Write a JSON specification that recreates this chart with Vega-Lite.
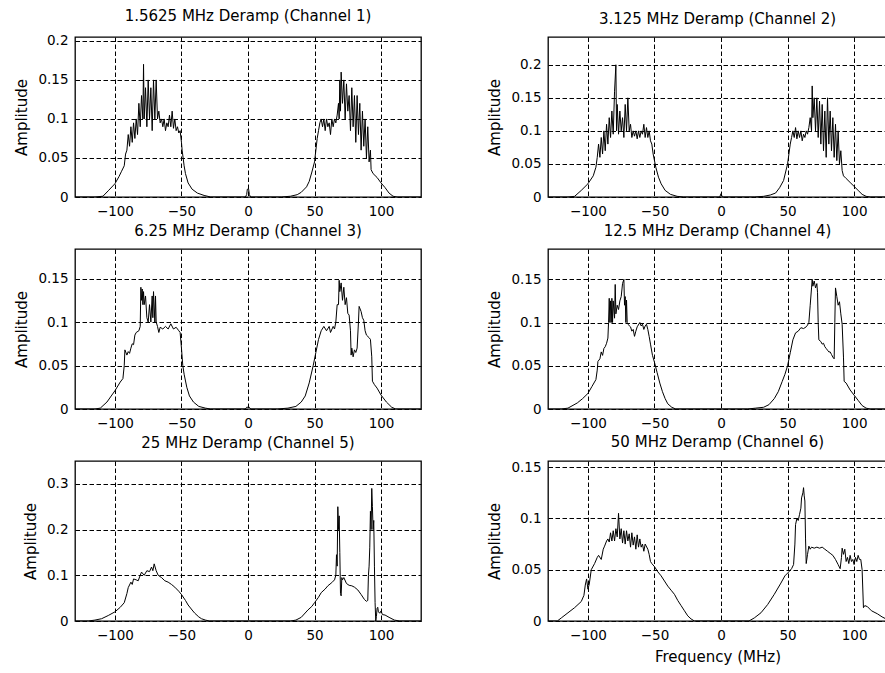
{
  "$schema": "https://vega.github.io/schema/vega-lite/v6.json",
  "background": "white",
  "padding": {"left": 14, "top": 8, "right": 0, "bottom": 0},
  "columns": 2,
  "bounds": "flush",
  "spacing": {"row": 52, "column": 127},
  "datasets": {
    "ch1": [{"f":-130,"a":0},{"f":-115,"a":0},{"f":-109,"a":0.001},{"f":-105,"a":0.008},{"f":-100,"a":0.017},{"f":-97,"a":0.026},{"f":-95,"a":0.033},{"f":-93,"a":0.04},{"f":-92,"a":0.055},{"f":-91,"a":0.06},{"f":-90,"a":0.08},{"f":-89,"a":0.065},{"f":-88,"a":0.09},{"f":-87,"a":0.07},{"f":-86,"a":0.095},{"f":-85,"a":0.075},{"f":-84,"a":0.1},{"f":-83,"a":0.08},{"f":-82,"a":0.12},{"f":-81,"a":0.09},{"f":-80,"a":0.13},{"f":-79,"a":0.1},{"f":-78.5,"a":0.17},{"f":-78,"a":0.1},{"f":-77,"a":0.14},{"f":-76,"a":0.09},{"f":-75,"a":0.15},{"f":-74,"a":0.1},{"f":-73,"a":0.14},{"f":-72,"a":0.085},{"f":-71,"a":0.15},{"f":-70,"a":0.1},{"f":-69,"a":0.15},{"f":-68,"a":0.1},{"f":-67,"a":0.11},{"f":-66,"a":0.095},{"f":-65,"a":0.1},{"f":-64,"a":0.09},{"f":-63,"a":0.1},{"f":-62,"a":0.085},{"f":-61,"a":0.095},{"f":-60,"a":0.09},{"f":-59,"a":0.105},{"f":-58,"a":0.09},{"f":-57,"a":0.11},{"f":-56,"a":0.088},{"f":-55,"a":0.1},{"f":-54,"a":0.085},{"f":-53,"a":0.09},{"f":-52,"a":0.082},{"f":-51,"a":0.085},{"f":-50,"a":0.07},{"f":-49.5,"a":0.06},{"f":-48,"a":0.04},{"f":-47,"a":0.03},{"f":-45,"a":0.018},{"f":-42,"a":0.01},{"f":-38,"a":0.005},{"f":-33,"a":0.002},{"f":-28,"a":0},{"f":-2,"a":0},{"f":-1,"a":0.003},{"f":-0.5,"a":0.01},{"f":0.5,"a":0.01},{"f":1,"a":0.003},{"f":2,"a":0},{"f":25,"a":0},{"f":32,"a":0.001},{"f":37,"a":0.003},{"f":40,"a":0.006},{"f":44,"a":0.013},{"f":46,"a":0.02},{"f":48,"a":0.032},{"f":50,"a":0.045},{"f":51,"a":0.06},{"f":52,"a":0.075},{"f":53,"a":0.085},{"f":54,"a":0.095},{"f":55,"a":0.1},{"f":56,"a":0.09},{"f":57,"a":0.1},{"f":58,"a":0.085},{"f":59,"a":0.1},{"f":60,"a":0.09},{"f":61,"a":0.095},{"f":62,"a":0.08},{"f":63,"a":0.1},{"f":64,"a":0.09},{"f":65,"a":0.1},{"f":66,"a":0.095},{"f":67,"a":0.105},{"f":68,"a":0.12},{"f":68.5,"a":0.1},{"f":69,"a":0.15},{"f":69.5,"a":0.11},{"f":70,"a":0.16},{"f":71,"a":0.12},{"f":72,"a":0.15},{"f":73,"a":0.1},{"f":74,"a":0.145},{"f":75,"a":0.11},{"f":76,"a":0.13},{"f":77,"a":0.085},{"f":78,"a":0.14},{"f":79,"a":0.09},{"f":80,"a":0.13},{"f":81,"a":0.07},{"f":82,"a":0.13},{"f":83,"a":0.08},{"f":84,"a":0.12},{"f":85,"a":0.06},{"f":86,"a":0.11},{"f":87,"a":0.065},{"f":88,"a":0.1},{"f":89,"a":0.05},{"f":90,"a":0.09},{"f":91,"a":0.045},{"f":92,"a":0.06},{"f":92.5,"a":0.035},{"f":94,"a":0.03},{"f":97,"a":0.025},{"f":100,"a":0.018},{"f":103,"a":0.012},{"f":106,"a":0.005},{"f":109,"a":0.001},{"f":112,"a":0},{"f":130,"a":0}],
    "ch2": [{"f":-130,"a":0},{"f":-115,"a":0},{"f":-110,"a":0.001},{"f":-105,"a":0.01},{"f":-100,"a":0.02},{"f":-96,"a":0.032},{"f":-94,"a":0.045},{"f":-93,"a":0.06},{"f":-92,"a":0.08},{"f":-91,"a":0.06},{"f":-90,"a":0.09},{"f":-89,"a":0.065},{"f":-88,"a":0.1},{"f":-87,"a":0.07},{"f":-86,"a":0.11},{"f":-85,"a":0.08},{"f":-84,"a":0.12},{"f":-83,"a":0.09},{"f":-82,"a":0.13},{"f":-81,"a":0.095},{"f":-80,"a":0.16},{"f":-79,"a":0.2},{"f":-78.5,"a":0.1},{"f":-78,"a":0.14},{"f":-77,"a":0.095},{"f":-76,"a":0.13},{"f":-75,"a":0.1},{"f":-74,"a":0.12},{"f":-73,"a":0.09},{"f":-72,"a":0.14},{"f":-71,"a":0.1},{"f":-70,"a":0.15},{"f":-69,"a":0.1},{"f":-68,"a":0.11},{"f":-67,"a":0.09},{"f":-66,"a":0.1},{"f":-65,"a":0.092},{"f":-64,"a":0.1},{"f":-63,"a":0.088},{"f":-62,"a":0.1},{"f":-61,"a":0.09},{"f":-60,"a":0.1},{"f":-59,"a":0.095},{"f":-58,"a":0.11},{"f":-57,"a":0.09},{"f":-56,"a":0.105},{"f":-55,"a":0.09},{"f":-54,"a":0.1},{"f":-53,"a":0.085},{"f":-52,"a":0.08},{"f":-51,"a":0.065},{"f":-50,"a":0.055},{"f":-49,"a":0.045},{"f":-47,"a":0.03},{"f":-45,"a":0.02},{"f":-42,"a":0.01},{"f":-38,"a":0.004},{"f":-33,"a":0.001},{"f":-28,"a":0},{"f":-1,"a":0},{"f":0,"a":0.005},{"f":1,"a":0},{"f":25,"a":0},{"f":32,"a":0.001},{"f":37,"a":0.003},{"f":41,"a":0.006},{"f":44,"a":0.014},{"f":47,"a":0.025},{"f":50,"a":0.05},{"f":51,"a":0.065},{"f":52,"a":0.08},{"f":53,"a":0.09},{"f":54,"a":0.1},{"f":55,"a":0.09},{"f":56,"a":0.105},{"f":57,"a":0.088},{"f":58,"a":0.1},{"f":59,"a":0.09},{"f":60,"a":0.1},{"f":61,"a":0.085},{"f":62,"a":0.095},{"f":63,"a":0.09},{"f":64,"a":0.1},{"f":65,"a":0.095},{"f":66,"a":0.105},{"f":67,"a":0.12},{"f":68,"a":0.1},{"f":68.5,"a":0.168},{"f":69,"a":0.12},{"f":70,"a":0.15},{"f":71,"a":0.1},{"f":72,"a":0.15},{"f":73,"a":0.09},{"f":74,"a":0.145},{"f":75,"a":0.08},{"f":76,"a":0.14},{"f":77,"a":0.07},{"f":78,"a":0.13},{"f":79,"a":0.06},{"f":80,"a":0.15},{"f":81,"a":0.08},{"f":82,"a":0.13},{"f":83,"a":0.07},{"f":84,"a":0.12},{"f":85,"a":0.06},{"f":86,"a":0.11},{"f":87,"a":0.055},{"f":88,"a":0.1},{"f":89,"a":0.05},{"f":90,"a":0.07},{"f":91,"a":0.04},{"f":92,"a":0.032},{"f":94,"a":0.028},{"f":97,"a":0.022},{"f":100,"a":0.016},{"f":103,"a":0.01},{"f":106,"a":0.004},{"f":109,"a":0.001},{"f":112,"a":0},{"f":130,"a":0}],
    "ch3": [{"f":-130,"a":0},{"f":-115,"a":0},{"f":-111,"a":0.001},{"f":-106,"a":0.008},{"f":-100,"a":0.021},{"f":-96,"a":0.031},{"f":-94,"a":0.035},{"f":-93,"a":0.05},{"f":-92.5,"a":0.068},{"f":-91,"a":0.062},{"f":-90,"a":0.066},{"f":-89,"a":0.064},{"f":-88,"a":0.07},{"f":-87,"a":0.075},{"f":-86,"a":0.074},{"f":-85,"a":0.085},{"f":-84,"a":0.088},{"f":-82,"a":0.09},{"f":-81,"a":0.095},{"f":-80.5,"a":0.14},{"f":-80,"a":0.125},{"f":-79.5,"a":0.138},{"f":-79,"a":0.12},{"f":-78.5,"a":0.135},{"f":-78,"a":0.12},{"f":-77,"a":0.13},{"f":-76,"a":0.105},{"f":-75,"a":0.1},{"f":-74,"a":0.12},{"f":-73,"a":0.1},{"f":-72,"a":0.13},{"f":-71.5,"a":0.105},{"f":-71,"a":0.135},{"f":-70,"a":0.1},{"f":-69.5,"a":0.13},{"f":-69,"a":0.1},{"f":-68,"a":0.095},{"f":-67,"a":0.088},{"f":-66,"a":0.094},{"f":-64,"a":0.092},{"f":-62,"a":0.095},{"f":-60,"a":0.092},{"f":-58,"a":0.098},{"f":-56,"a":0.092},{"f":-54,"a":0.094},{"f":-52,"a":0.09},{"f":-51,"a":0.088},{"f":-50,"a":0.07},{"f":-49,"a":0.05},{"f":-48,"a":0.04},{"f":-46,"a":0.025},{"f":-44,"a":0.015},{"f":-41,"a":0.008},{"f":-37,"a":0.003},{"f":-32,"a":0.001},{"f":-28,"a":0},{"f":-2,"a":0},{"f":-1,"a":0.002},{"f":1,"a":0.002},{"f":2,"a":0},{"f":22,"a":0},{"f":30,"a":0.001},{"f":36,"a":0.003},{"f":40,"a":0.008},{"f":43,"a":0.015},{"f":46,"a":0.03},{"f":49,"a":0.05},{"f":51,"a":0.065},{"f":53,"a":0.08},{"f":55,"a":0.09},{"f":57,"a":0.095},{"f":59,"a":0.09},{"f":61,"a":0.095},{"f":62,"a":0.088},{"f":64,"a":0.095},{"f":65,"a":0.092},{"f":66,"a":0.1},{"f":67,"a":0.12},{"f":68,"a":0.12},{"f":68.5,"a":0.148},{"f":69,"a":0.135},{"f":70,"a":0.145},{"f":71,"a":0.125},{"f":72,"a":0.14},{"f":73,"a":0.12},{"f":74,"a":0.128},{"f":75,"a":0.11},{"f":76,"a":0.108},{"f":77,"a":0.09},{"f":77.5,"a":0.062},{"f":78,"a":0.07},{"f":79,"a":0.06},{"f":80,"a":0.068},{"f":81,"a":0.065},{"f":82,"a":0.07},{"f":83,"a":0.1},{"f":83.5,"a":0.118},{"f":85,"a":0.112},{"f":86,"a":0.105},{"f":87,"a":0.102},{"f":88,"a":0.09},{"f":89,"a":0.085},{"f":91,"a":0.082},{"f":92,"a":0.08},{"f":93,"a":0.06},{"f":93.5,"a":0.032},{"f":95,"a":0.028},{"f":97,"a":0.024},{"f":100,"a":0.016},{"f":104,"a":0.008},{"f":108,"a":0.002},{"f":111,"a":0},{"f":130,"a":0}],
    "ch4": [{"f":-130,"a":0},{"f":-120,"a":0},{"f":-115,"a":0.001},{"f":-108,"a":0.007},{"f":-104,"a":0.012},{"f":-100,"a":0.018},{"f":-97,"a":0.026},{"f":-94,"a":0.034},{"f":-93,"a":0.045},{"f":-92.5,"a":0.055},{"f":-91,"a":0.058},{"f":-90,"a":0.066},{"f":-89,"a":0.062},{"f":-88,"a":0.07},{"f":-87,"a":0.072},{"f":-86,"a":0.076},{"f":-85,"a":0.082},{"f":-84.5,"a":0.1},{"f":-84,"a":0.128},{"f":-83.5,"a":0.1},{"f":-83,"a":0.125},{"f":-82.5,"a":0.1},{"f":-82,"a":0.128},{"f":-81.5,"a":0.1},{"f":-81,"a":0.125},{"f":-80,"a":0.105},{"f":-79.5,"a":0.144},{"f":-79,"a":0.11},{"f":-78,"a":0.12},{"f":-77,"a":0.115},{"f":-76,"a":0.125},{"f":-75,"a":0.13},{"f":-74,"a":0.145},{"f":-73,"a":0.15},{"f":-72.5,"a":0.12},{"f":-72,"a":0.13},{"f":-71.5,"a":0.1},{"f":-71,"a":0.126},{"f":-70.5,"a":0.1},{"f":-70,"a":0.098},{"f":-68,"a":0.095},{"f":-67,"a":0.09},{"f":-66,"a":0.092},{"f":-65,"a":0.084},{"f":-64,"a":0.09},{"f":-63,"a":0.095},{"f":-61,"a":0.1},{"f":-60,"a":0.096},{"f":-59,"a":0.098},{"f":-58,"a":0.092},{"f":-57,"a":0.096},{"f":-56,"a":0.098},{"f":-55,"a":0.092},{"f":-54,"a":0.084},{"f":-53,"a":0.075},{"f":-51.5,"a":0.062},{"f":-50,"a":0.054},{"f":-48,"a":0.042},{"f":-46,"a":0.03},{"f":-44,"a":0.02},{"f":-42,"a":0.012},{"f":-40,"a":0.006},{"f":-37,"a":0.002},{"f":-34,"a":0},{"f":20,"a":0},{"f":26,"a":0.001},{"f":32,"a":0.002},{"f":36,"a":0.005},{"f":40,"a":0.012},{"f":43,"a":0.02},{"f":46,"a":0.032},{"f":48,"a":0.04},{"f":50,"a":0.05},{"f":52,"a":0.065},{"f":54,"a":0.08},{"f":56,"a":0.088},{"f":58,"a":0.09},{"f":60,"a":0.094},{"f":62,"a":0.093},{"f":64,"a":0.095},{"f":65,"a":0.097},{"f":66,"a":0.1},{"f":67,"a":0.12},{"f":68,"a":0.14},{"f":68.5,"a":0.15},{"f":69,"a":0.142},{"f":70,"a":0.148},{"f":71,"a":0.14},{"f":72,"a":0.145},{"f":72.5,"a":0.135},{"f":73,"a":0.1},{"f":73.5,"a":0.08},{"f":75,"a":0.078},{"f":76,"a":0.075},{"f":77,"a":0.076},{"f":78,"a":0.072},{"f":79,"a":0.07},{"f":80,"a":0.068},{"f":81,"a":0.066},{"f":82,"a":0.066},{"f":83,"a":0.063},{"f":84,"a":0.06},{"f":85,"a":0.058},{"f":85.5,"a":0.1},{"f":86,"a":0.14},{"f":87,"a":0.13},{"f":88,"a":0.12},{"f":89,"a":0.124},{"f":90,"a":0.11},{"f":91,"a":0.098},{"f":92,"a":0.06},{"f":92.5,"a":0.032},{"f":94,"a":0.03},{"f":97,"a":0.022},{"f":100,"a":0.016},{"f":103,"a":0.01},{"f":106,"a":0.004},{"f":109,"a":0.001},{"f":112,"a":0},{"f":130,"a":0}],
    "ch5": [{"f":-130,"a":0},{"f":-120,"a":0},{"f":-115,"a":0.002},{"f":-110,"a":0.005},{"f":-105,"a":0.012},{"f":-100,"a":0.02},{"f":-96,"a":0.03},{"f":-93,"a":0.04},{"f":-91,"a":0.06},{"f":-90,"a":0.073},{"f":-88,"a":0.085},{"f":-87,"a":0.08},{"f":-86,"a":0.092},{"f":-84,"a":0.09},{"f":-82.5,"a":0.088},{"f":-81,"a":0.1},{"f":-80,"a":0.107},{"f":-78,"a":0.1},{"f":-76,"a":0.11},{"f":-74,"a":0.108},{"f":-72.5,"a":0.118},{"f":-71.5,"a":0.11},{"f":-70.5,"a":0.125},{"f":-69,"a":0.11},{"f":-67.5,"a":0.1},{"f":-65,"a":0.095},{"f":-62.5,"a":0.088},{"f":-60,"a":0.085},{"f":-57.5,"a":0.08},{"f":-55,"a":0.074},{"f":-52,"a":0.065},{"f":-50,"a":0.058},{"f":-47,"a":0.045},{"f":-45,"a":0.035},{"f":-42,"a":0.024},{"f":-40,"a":0.017},{"f":-37,"a":0.009},{"f":-35,"a":0.005},{"f":-32,"a":0.002},{"f":-29,"a":0},{"f":32,"a":0},{"f":36,"a":0.002},{"f":40,"a":0.008},{"f":45,"a":0.024},{"f":48,"a":0.032},{"f":50,"a":0.04},{"f":53,"a":0.052},{"f":55,"a":0.062},{"f":58,"a":0.07},{"f":60,"a":0.077},{"f":63,"a":0.084},{"f":65,"a":0.09},{"f":66,"a":0.1},{"f":66.5,"a":0.145},{"f":67,"a":0.12},{"f":67.5,"a":0.25},{"f":68,"a":0.2},{"f":68.5,"a":0.23},{"f":69,"a":0.15},{"f":69.5,"a":0.06},{"f":70,"a":0.055},{"f":70.5,"a":0.095},{"f":71,"a":0.09},{"f":72,"a":0.095},{"f":74,"a":0.082},{"f":76,"a":0.078},{"f":78,"a":0.077},{"f":80,"a":0.074},{"f":82.5,"a":0.068},{"f":85,"a":0.058},{"f":87.5,"a":0.047},{"f":89,"a":0.043},{"f":90,"a":0.045},{"f":90.5,"a":0.1},{"f":91,"a":0.12},{"f":91.5,"a":0.16},{"f":92,"a":0.24},{"f":92.5,"a":0.2},{"f":93,"a":0.29},{"f":93.5,"a":0.25},{"f":94,"a":0.2},{"f":94.5,"a":0.22},{"f":95,"a":0.12},{"f":95.5,"a":0.04},{"f":96,"a":0},{"f":96.5,"a":0.01},{"f":97,"a":0.028},{"f":97.5,"a":0.03},{"f":98,"a":0.02},{"f":99,"a":0.017},{"f":100,"a":0.022},{"f":101,"a":0.014},{"f":103,"a":0.013},{"f":106,"a":0.008},{"f":110,"a":0.002},{"f":114,"a":0},{"f":130,"a":0}],
    "ch6": [{"f":-130,"a":0},{"f":-123,"a":0},{"f":-120,"a":0.003},{"f":-115,"a":0.008},{"f":-110,"a":0.013},{"f":-105,"a":0.019},{"f":-103,"a":0.025},{"f":-102,"a":0.035},{"f":-101,"a":0.041},{"f":-100,"a":0.031},{"f":-99,"a":0.036},{"f":-97.5,"a":0.05},{"f":-95,"a":0.056},{"f":-93,"a":0.062},{"f":-92,"a":0.064},{"f":-90,"a":0.06},{"f":-88.5,"a":0.07},{"f":-87.5,"a":0.073},{"f":-86,"a":0.078},{"f":-85,"a":0.08},{"f":-84,"a":0.077},{"f":-83,"a":0.086},{"f":-82,"a":0.078},{"f":-81,"a":0.088},{"f":-80,"a":0.078},{"f":-79,"a":0.09},{"f":-78,"a":0.082},{"f":-77,"a":0.105},{"f":-76,"a":0.08},{"f":-75,"a":0.09},{"f":-74,"a":0.076},{"f":-73,"a":0.088},{"f":-72,"a":0.075},{"f":-71,"a":0.088},{"f":-70,"a":0.078},{"f":-69,"a":0.085},{"f":-68,"a":0.072},{"f":-67,"a":0.086},{"f":-66,"a":0.074},{"f":-65,"a":0.082},{"f":-64,"a":0.07},{"f":-63,"a":0.084},{"f":-62,"a":0.072},{"f":-61,"a":0.08},{"f":-60,"a":0.072},{"f":-59,"a":0.075},{"f":-58,"a":0.068},{"f":-57,"a":0.075},{"f":-55,"a":0.07},{"f":-54,"a":0.065},{"f":-53,"a":0.058},{"f":-52,"a":0.056},{"f":-50,"a":0.053},{"f":-47.5,"a":0.048},{"f":-45,"a":0.044},{"f":-42.5,"a":0.039},{"f":-40,"a":0.034},{"f":-37.5,"a":0.03},{"f":-35,"a":0.026},{"f":-32.5,"a":0.02},{"f":-30,"a":0.015},{"f":-27.5,"a":0.01},{"f":-25,"a":0.005},{"f":-22.5,"a":0.002},{"f":-20,"a":0},{"f":21,"a":0},{"f":25,"a":0.003},{"f":30,"a":0.008},{"f":35,"a":0.016},{"f":40,"a":0.026},{"f":45,"a":0.037},{"f":48,"a":0.044},{"f":51,"a":0.048},{"f":53,"a":0.051},{"f":54.5,"a":0.055},{"f":55.5,"a":0.075},{"f":56,"a":0.094},{"f":57,"a":0.1},{"f":58,"a":0.098},{"f":59,"a":0.104},{"f":60,"a":0.11},{"f":60.5,"a":0.12},{"f":61.5,"a":0.125},{"f":62,"a":0.13},{"f":62.5,"a":0.122},{"f":63,"a":0.117},{"f":63.5,"a":0.08},{"f":64,"a":0.056},{"f":65,"a":0.065},{"f":66,"a":0.073},{"f":67,"a":0.07},{"f":68,"a":0.072},{"f":70,"a":0.071},{"f":72,"a":0.072},{"f":74,"a":0.071},{"f":76,"a":0.072},{"f":78,"a":0.07},{"f":80,"a":0.068},{"f":82,"a":0.066},{"f":84,"a":0.064},{"f":86,"a":0.06},{"f":88,"a":0.055},{"f":89.5,"a":0.051},{"f":90.5,"a":0.062},{"f":91,"a":0.071},{"f":92,"a":0.065},{"f":93,"a":0.07},{"f":94,"a":0.058},{"f":95,"a":0.062},{"f":96,"a":0.056},{"f":97,"a":0.064},{"f":98,"a":0.058},{"f":99,"a":0.06},{"f":100,"a":0.055},{"f":101,"a":0.062},{"f":102,"a":0.058},{"f":103,"a":0.064},{"f":104,"a":0.06},{"f":105,"a":0.06},{"f":106,"a":0.05},{"f":107,"a":0.013},{"f":108,"a":0.015},{"f":110,"a":0.014},{"f":113,"a":0.01},{"f":117.5,"a":0.007},{"f":121,"a":0.004},{"f":124,"a":0.002},{"f":126,"a":0.001}]
  },
  "concat": [
    {
      "title": "1.5625 MHz Deramp (Channel 1)",
      "width": 346, "height": 160,
      "data": {"name": "ch1"},
      "mark": {"type": "line", "color": "black", "strokeWidth": 1, "clip": true},
      "encoding": {
        "x": {"field": "f", "type": "quantitative", "scale": {"domain": [-130, 130], "nice": false, "zero": false}, "axis": {"values": [-100, -50, 0, 50, 100], "title": null}},
        "y": {"field": "a", "type": "quantitative", "scale": {"domain": [0, 0.205], "nice": false}, "axis": {"values": [0, 0.05, 0.1, 0.15, 0.2], "format": "~g", "title": "Amplitude"}}
      }
    },
    {
      "title": "3.125 MHz Deramp (Channel 2)",
      "width": 339, "height": 160,
      "data": {"name": "ch2"},
      "mark": {"type": "line", "color": "black", "strokeWidth": 1, "clip": true},
      "encoding": {
        "x": {"field": "f", "type": "quantitative", "scale": {"domain": [-130, 124.7], "nice": false, "zero": false}, "axis": {"values": [-100, -50, 0, 50, 100], "title": null}},
        "y": {"field": "a", "type": "quantitative", "scale": {"domain": [0, 0.242], "nice": false}, "axis": {"values": [0, 0.05, 0.1, 0.15, 0.2], "format": "~g", "title": "Amplitude"}}
      }
    },
    {
      "title": "6.25 MHz Deramp (Channel 3)",
      "width": 346, "height": 160,
      "data": {"name": "ch3"},
      "mark": {"type": "line", "color": "black", "strokeWidth": 1, "clip": true},
      "encoding": {
        "x": {"field": "f", "type": "quantitative", "scale": {"domain": [-130, 130], "nice": false, "zero": false}, "axis": {"values": [-100, -50, 0, 50, 100], "title": null}},
        "y": {"field": "a", "type": "quantitative", "scale": {"domain": [0, 0.184], "nice": false}, "axis": {"values": [0, 0.05, 0.1, 0.15], "format": "~g", "title": "Amplitude"}}
      }
    },
    {
      "title": "12.5 MHz Deramp (Channel 4)",
      "width": 339, "height": 160,
      "data": {"name": "ch4"},
      "mark": {"type": "line", "color": "black", "strokeWidth": 1, "clip": true},
      "encoding": {
        "x": {"field": "f", "type": "quantitative", "scale": {"domain": [-130, 124.7], "nice": false, "zero": false}, "axis": {"values": [-100, -50, 0, 50, 100], "title": null}},
        "y": {"field": "a", "type": "quantitative", "scale": {"domain": [0, 0.185], "nice": false}, "axis": {"values": [0, 0.05, 0.1, 0.15], "format": "~g", "title": "Amplitude"}}
      }
    },
    {
      "title": "25 MHz Deramp (Channel 5)",
      "width": 346, "height": 160,
      "data": {"name": "ch5"},
      "mark": {"type": "line", "color": "black", "strokeWidth": 1, "clip": true},
      "encoding": {
        "x": {"field": "f", "type": "quantitative", "scale": {"domain": [-130, 130], "nice": false, "zero": false}, "axis": {"values": [-100, -50, 0, 50, 100], "title": null}},
        "y": {"field": "a", "type": "quantitative", "scale": {"domain": [0, 0.35], "nice": false}, "axis": {"values": [0, 0.1, 0.2, 0.3], "format": "~g", "title": "Amplitude"}}
      }
    },
    {
      "title": "50 MHz Deramp (Channel 6)",
      "width": 339, "height": 160,
      "data": {"name": "ch6"},
      "mark": {"type": "line", "color": "black", "strokeWidth": 1, "clip": true},
      "encoding": {
        "x": {"field": "f", "type": "quantitative", "scale": {"domain": [-130, 124.7], "nice": false, "zero": false}, "axis": {"values": [-100, -50, 0, 50, 100], "title": "Frequency (MHz)", "titlePadding": 8}},
        "y": {"field": "a", "type": "quantitative", "scale": {"domain": [0, 0.156], "nice": false}, "axis": {"values": [0, 0.05, 0.1, 0.15], "format": "~g", "title": "Amplitude"}}
      }
    }
  ],
  "config": {
    "font": "DejaVu Sans",
    "view": {"stroke": "black", "strokeWidth": 1.3},
    "axis": {
      "grid": true, "gridColor": "#000000", "gridDash": [4.5, 2.5], "gridWidth": 1, "gridOpacity": 1,
      "domain": false, "ticks": false,
      "labelFontSize": 13.5, "labelColor": "black", "labelPadding": 7,
      "titleFontSize": 15, "titleFontWeight": "normal", "titleColor": "black", "titlePadding": 8
    },
    "title": {"fontSize": 15, "fontWeight": "normal", "color": "black", "offset": 10}
  }
}
